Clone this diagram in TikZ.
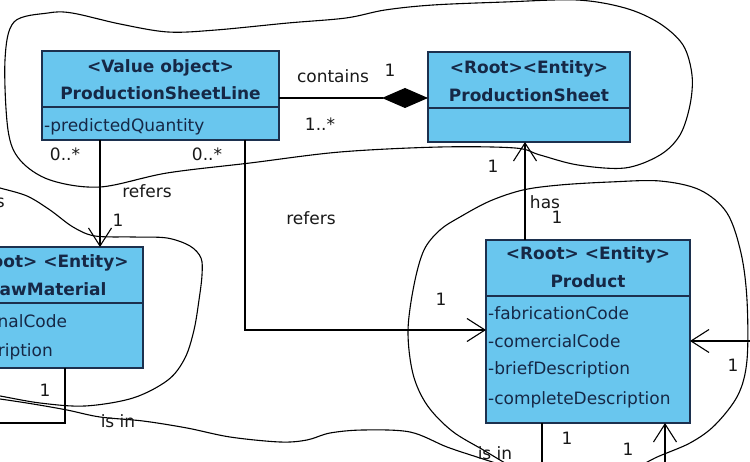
\documentclass[tikz,border=0pt]{standalone}
\usepackage{fontspec}
\setmainfont{DejaVu Sans}
\usetikzlibrary{arrows.meta,calc}
\definecolor{boxfill}{RGB}{105,198,238}
\definecolor{boxline}{RGB}{28,48,78}
\definecolor{boxtext}{RGB}{22,40,70}
\definecolor{lbltext}{RGB}{25,25,25}
\begin{document}
\begin{tikzpicture}[x=1pt,y=-1pt,
  classbox/.style={draw=boxline, fill=boxfill, line width=1.4pt, anchor=north west, inner sep=0pt, outer sep=0pt},
  divider/.style={draw=boxline, line width=1.4pt},
  hdr/.style={font=\fontsize{17}{20}\selectfont\bfseries, text=boxtext, anchor=base, inner sep=0pt},
  attr/.style={font=\fontsize{17}{20}\selectfont, text=boxtext, anchor=base west, inner sep=0pt},
  lbl/.style={font=\fontsize{17}{20}\selectfont, text=lbltext, anchor=base, inner sep=0pt},
  conn/.style={draw=black, line width=1.1pt},
  navarrow/.style={conn, -{Straight Barb[length=18pt,width=23pt,line width=1.1pt]}},
  compo/.style={conn, -{Diamond[length=46pt,width=20pt,fill=black]}},
  freehand/.style={draw=black, line width=1.1pt}]
\useasboundingbox (0,0) rectangle (750,462);
\clip (0,0) rectangle (750,462);
\fill[white] (0,0) rectangle (750,462);

% freehand boundaries
\draw[freehand] plot[smooth cycle, tension=0.55] coordinates {(14,22) (48,13) (72,13) (120,24) (168,32) (216,30) (288,23) (346,18) (385,10) (433,5) (505,2) (577,0) (625,8) (659,23) (683,45) (692,75) (690,105) (680,135) (660,155) (625,168) (578,165) (540,155) (515,148) (440,147) (340,152) (250,163) (167,173) (100,187) (50,180) (20,160) (8,130) (5,60)};
\draw[freehand] plot[smooth, tension=0.55] coordinates {(-10,185) (0,188) (27,196) (50,210) (73,227) (95,236) (133,237) (167,238) (190,246) (201,258) (202,275) (199,300) (194,330) (185,358) (168,380) (133,398) (85,406) (40,403) (0,396) (-10,395)};
\draw[freehand] plot[smooth, tension=0.55] coordinates {(-10,398) (0,399) (33,404) (67,410) (100,417) (143,421) (187,428) (230,437) (280,442) (307,440) (330,433) (363,430) (410,432) (447,447) (480,458) (505,466)};
\draw[freehand] plot[smooth, tension=0.55] coordinates {(520,472) (485,451) (452,431) (427,405) (413,374) (408,331) (414,285) (424,250) (440,230) (460,217) (490,201) (523,190) (560,185) (610,182) (660,181) (700,190) (727,213) (741,253) (747,300) (747,360) (738,395) (715,425) (690,443) (655,458) (630,472)};

% class boxes
\node[classbox, minimum width=237pt, minimum height=89pt] (psl) at (42,51) {};
\node[classbox, minimum width=202pt, minimum height=90pt] (ps) at (428,52) {};
\node[classbox, minimum width=193pt, minimum height=121pt] (rm) at (-50,247) {};
\node[classbox, minimum width=204pt, minimum height=183pt] (prod) at (486,240) {};

\draw[divider] ($(psl.north west)+(0,56)$) -- ($(psl.north east)+(0,56)$);
\draw[divider] ($(ps.north west)+(0,56)$) -- ($(ps.north east)+(0,56)$);
\draw[divider] ($(rm.north west)+(0,56)$) -- ($(rm.north east)+(0,56)$);
\draw[divider] ($(prod.north west)+(0,56)$) -- ($(prod.north east)+(0,56)$);

% class texts
\node[hdr] (pslst) at (160.5,73) {<Value object>};
\node[hdr] (pslnm) at (160.5,100) {ProductionSheetLine};
\node[attr] (psla1) at (44,132) {-predictedQuantity};

\node[hdr] (psst) at (529,74) {<Root><Entity>};
\node[hdr] (psnm) at (529,102) {ProductionSheet};

\node[hdr] (rmst) at (46.5,268) {<Root> <Entity>};
\node[hdr] (rmnm) at (46.5,296) {RawMaterial};
\node[attr] (rma1) at (-48,328) {-internalCode};
\node[attr] (rma2) at (-48,356) {-description};

\node[hdr] (prst) at (588,260) {<Root> <Entity>};
\node[hdr] (prnm) at (588,288) {Product};
\node[attr] (pra1) at (488,320) {-fabricationCode};
\node[attr] (pra2) at (488,348) {-comercialCode};
\node[attr] (pra3) at (488,375) {-briefDescription};
\node[attr] (pra4) at (488,404) {-completeDescription};

% connectors
\draw[compo] ($(psl.north east)+(0,47)$) -- ($(ps.north west)+(0,46)$);
\draw[navarrow] ($(psl.south west)+(58,0)$) -- ($(rm.north west)+(150,0)$);
\draw[navarrow] ($(psl.south west)+(203,0)$) |- ($(prod.north west)+(0,90)$);
\draw[navarrow] ($(prod.north west)+(39,0)$) -- ($(ps.south west)+(97,0)$);
\coordinate (rmend) at (-10,423);
\draw[conn] ($(rm.south west)+(115,0)$) |- (rmend);
\coordinate (rightend) at (760,341);
\draw[navarrow] (rightend) -- ($(prod.north east)+(0,101)$);
\coordinate (botA) at (542,472);
\draw[conn] ($(prod.south west)+(56,0)$) -- (botA);
\coordinate (botB) at (665,472);
\draw[navarrow] (botB) -- ($(prod.south west)+(179,0)$);

% labels
\node[lbl] (lcont) at (333,83) {contains};
\node[lbl] (lc1) at (390,77) {1};
\node[lbl] (lcm) at (320,131) {1..*};
\node[lbl] (lr0a) at (65,161) {0..*};
\node[lbl] (lr0b) at (207,161) {0..*};
\node[lbl] (lref1) at (147,198) {refers};
\node[lbl] (lref1b) at (118,227) {1};
\node[lbl] (lref2) at (311,225) {refers};
\node[lbl] (lref2b) at (441,306) {1};
\node[lbl] (lhas1) at (493,173) {1};
\node[lbl] (lhas) at (545,209) {has};
\node[lbl] (lhas2) at (557,224) {1};
\node[lbl] (lrm1) at (45,396) {1};
\node[lbl] (lisin1) at (118,427) {is in};
\node[lbl] (lisin2) at (495,459) {is in};
\node[lbl] (lright1) at (733,371) {1};
\node[lbl] (lbot1) at (567,444) {1};
\node[lbl] (lbot2) at (628,455) {1};
\node[lbl, anchor=base east] (ls) at (5,208) {s};
\end{tikzpicture}
\end{document}
